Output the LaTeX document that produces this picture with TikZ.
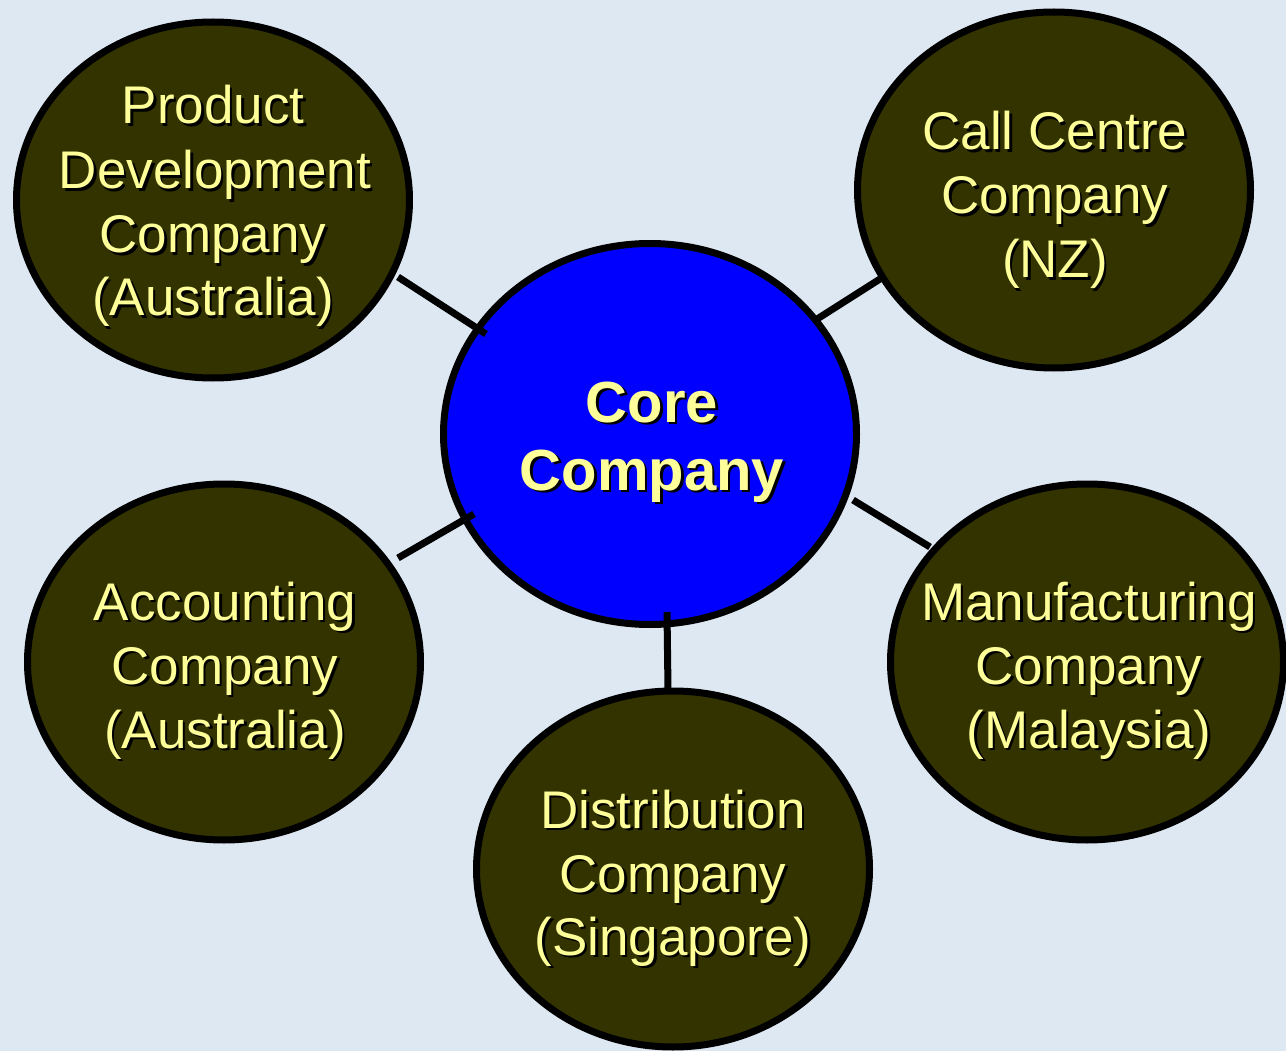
\documentclass[tikz,border=0pt]{standalone}
\usepackage{fontspec}
\setmainfont{Liberation Sans}
\usetikzlibrary{shapes.geometric}
\definecolor{bgblue}{RGB}{222,232,243}
\definecolor{olive}{RGB}{51,51,0}
\definecolor{txtyellow}{RGB}{255,255,153}
\definecolor{coreblue}{RGB}{0,0,255}
\tikzset{
  bubble/.style={shape=ellipse,draw=black,line width=7pt,fill=olive,inner sep=0pt,
    minimum width=393pt,minimum height=356pt},
  corebubble/.style={shape=ellipse,draw=black,line width=7pt,fill=coreblue,inner sep=0pt,
    minimum width=413pt,minimum height=381pt},
  txt/.style={anchor=base,inner sep=0pt,text=txtyellow,font=\fontsize{53}{60}\selectfont},
  coretxt/.style={anchor=base,inner sep=0pt,text=txtyellow,font=\bfseries\fontsize{58}{66}\selectfont},
  link/.style={draw=black,line width=7pt}
}
\newcommand\tline[5][txt]{%
  \node[#1,text=black] (#2s) at (#3+2.5,#4+2.5) {#5};
  \node[#1] (#2) at (#3,#4) {#5};}
\begin{document}
\begin{tikzpicture}[x=1pt,y=-1pt]
\useasboundingbox (0,0) rectangle (1286,1051);
\fill[bgblue] (0,0) rectangle (1286,1051);
% bubbles
\node[corebubble] (core) at (650,434) {};
\node[bubble] (pd) at (213,200) {};
\node[bubble] (cc) at (1054,190) {};
\node[bubble] (acc) at (224,662) {};
\node[bubble] (man) at (1087,662) {};
\node[bubble] (dist) at (673,869) {};
% connector end points
\coordinate (pdA) at (398,277);   \coordinate (pdB) at (486,334);
\coordinate (ccA) at (880,279);   \coordinate (ccB) at (814,321);
\coordinate (accA) at (398,558);  \coordinate (accB) at (474,514);
\coordinate (manA) at (930,547);  \coordinate (manB) at (853,500);
\coordinate (distA) at (668,689); \coordinate (distB) at (667,612);
\draw[link] (pdA) -- (pdB);
\draw[link] (ccA) -- (ccB);
\draw[link] (accA) -- (accB);
\draw[link] (manA) -- (manB);
\draw[link] (distA) -- (distB);
% texts
\tline[coretxt]{c1}{652}{422}{Core}
\tline[coretxt]{c2}{652}{490}{Company}
\tline{pd1}{213}{124}{Product}
\tline{pd2}{215}{189}{Development}
\tline{pd3}{213}{253}{Company}
\tline{pd4}{213}{316}{(Australia)}
\tline{cc1}{1055}{150}{Call Centre}
\tline{cc2}{1055}{214}{Company}
\tline{cc3}{1055}{278}{(NZ)}
\tline{acc1}{225}{620}{Accounting}
\tline{acc2}{225}{684}{Company}
\tline{acc3}{225}{748}{(Australia)}
\tline{man1}{1089}{620}{Manufacturing}
\tline{man2}{1089}{684}{Company}
\tline{man3}{1089}{748}{(Malaysia)}
\tline{dist1}{673}{828}{Distribution}
\tline{dist2}{673}{892}{Company}
\tline{dist3}{673}{955}{(Singapore)}
\end{tikzpicture}
\end{document}
